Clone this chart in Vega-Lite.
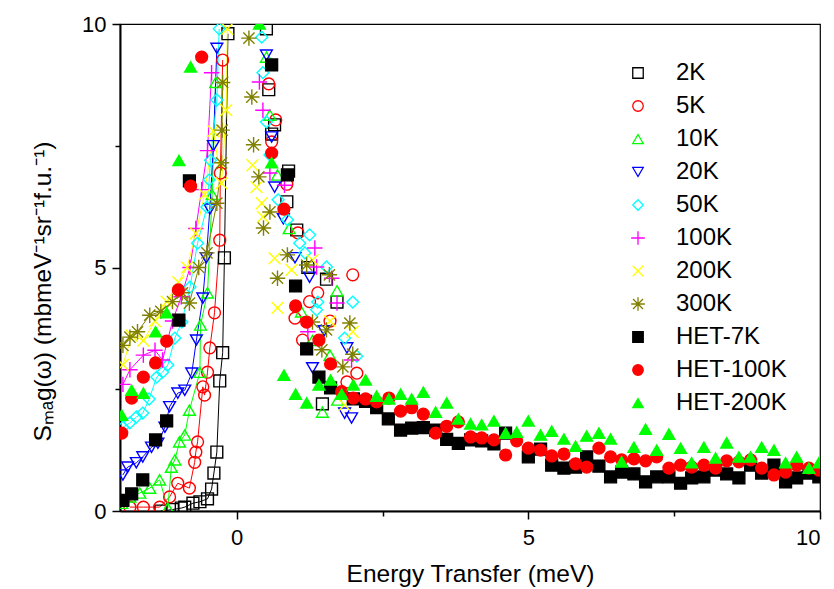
{
"$schema":"https://vega.github.io/schema/vega-lite/v6.json",
"width":700,"height":487,
"autosize":{"type":"none"},
"padding":{"left":120,"top":24,"right":14,"bottom":78},
"background":"white",
"config":{
 "font":"Liberation Sans",
 "view":{"stroke":"#000","strokeWidth":1.2},
 "axis":{"domainColor":"#000","domainWidth":2,"tickColor":"#000","tickWidth":1.5,"grid":false,"labelFont":"Liberation Sans","labelFontSize":22,"labelColor":"#000","titleFont":"Liberation Sans","titleFontSize":24.5,"titleFontWeight":"normal","titleColor":"#000"},
 "legend":{"orient":"none","legendX":506,"legendY":37,"padding":0,"rowPadding":9,"labelOffset":26,"symbolSize":110,"symbolStrokeWidth":1.3,"labelFontSize":24,"labelFont":"Liberation Sans","labelColor":"#000"}
},
"data":{"values":[
{"series":"2K","energy":-1.3,"S":0.0},{"series":"2K","energy":-1.1,"S":0.03},{"series":"2K","energy":-0.95,"S":0.06},{"series":"2K","energy":-0.89,"S":0.08},{"series":"2K","energy":-0.75,"S":0.16},{"series":"2K","energy":-0.63,"S":0.19},{"series":"2K","energy":-0.5,"S":0.25},{"series":"2K","energy":-0.43,"S":0.45},{"series":"2K","energy":-0.39,"S":0.78},{"series":"2K","energy":-0.34,"S":1.21},{"series":"2K","energy":-0.29,"S":2.67},{"series":"2K","energy":-0.24,"S":3.25},{"series":"2K","energy":-0.21,"S":5.2},{"series":"2K","energy":-0.15,"S":9.8},
{"series":"2K","energy":0.51,"S":9.9},{"series":"2K","energy":0.55,"S":8.65},{"series":"2K","energy":0.6,"S":7.74},{"series":"2K","energy":0.65,"S":7.93},{"series":"2K","energy":0.86,"S":6.35},{"series":"2K","energy":0.89,"S":6.98},{"series":"2K","energy":1.03,"S":5.77},{"series":"2K","energy":1.22,"S":5.0},{"series":"2K","energy":1.47,"S":2.2},{"series":"2K","energy":1.54,"S":4.76},{"series":"2K","energy":1.72,"S":4.29},
{"series":"5K","energy":-1.83,"S":0.08},{"series":"5K","energy":-1.6,"S":0.08},{"series":"5K","energy":-1.32,"S":0.08},{"series":"5K","energy":-1.15,"S":0.29},{"series":"5K","energy":-1.01,"S":0.57},{"series":"5K","energy":-0.81,"S":0.47},{"series":"5K","energy":-0.72,"S":1.0},{"series":"5K","energy":-0.7,"S":1.21},{"series":"5K","energy":-0.67,"S":1.42},{"series":"5K","energy":-0.58,"S":2.55},{"series":"5K","energy":-0.55,"S":2.38},{"series":"5K","energy":-0.5,"S":2.85},{"series":"5K","energy":-0.46,"S":3.35},{"series":"5K","energy":-0.38,"S":4.07},{"series":"5K","energy":-0.29,"S":5.56},{"series":"5K","energy":-0.28,"S":6.94},{"series":"5K","energy":-0.24,"S":9.26},
{"series":"5K","energy":0.42,"S":10.3},{"series":"5K","energy":0.55,"S":8.77},{"series":"5K","energy":0.6,"S":7.58},{"series":"5K","energy":0.67,"S":8.03},{"series":"5K","energy":0.86,"S":6.71},{"series":"5K","energy":1.05,"S":5.71},{"series":"5K","energy":1.0,"S":3.96},{"series":"5K","energy":1.13,"S":3.51},{"series":"5K","energy":1.39,"S":4.48},{"series":"5K","energy":1.25,"S":4.3},{"series":"5K","energy":1.6,"S":3.9},{"series":"5K","energy":1.89,"S":2.65},{"series":"5K","energy":2.06,"S":2.83},{"series":"5K","energy":1.99,"S":4.85},
{"series":"10K","energy":-1.97,"S":0.16},{"series":"10K","energy":-1.83,"S":0.29},{"series":"10K","energy":-1.66,"S":0.37},{"series":"10K","energy":-1.49,"S":0.47},{"series":"10K","energy":-1.32,"S":0.64},{"series":"10K","energy":-1.18,"S":0.06},{"series":"10K","energy":-1.12,"S":0.9},{"series":"10K","energy":-1.06,"S":1.05},{"series":"10K","energy":-0.98,"S":1.42},{"series":"10K","energy":-0.89,"S":1.56},{"series":"10K","energy":-0.81,"S":2.07},{"series":"10K","energy":-0.63,"S":2.85},{"series":"10K","energy":-0.62,"S":3.82},{"series":"10K","energy":-0.5,"S":4.48},{"series":"10K","energy":-0.42,"S":6.5},{"series":"10K","energy":-0.36,"S":8.8},
{"series":"10K","energy":0.51,"S":9.32},{"series":"10K","energy":0.57,"S":8.13},{"series":"10K","energy":0.7,"S":6.9},{"series":"10K","energy":0.9,"S":5.8},{"series":"10K","energy":1.11,"S":4.09},{"series":"10K","energy":1.3,"S":3.5},{"series":"10K","energy":1.47,"S":2.03},{"series":"10K","energy":1.72,"S":4.52},{"series":"10K","energy":1.73,"S":2.28},{"series":"10K","energy":1.6,"S":3.2},
{"series":"20K","energy":-1.95,"S":0.74},{"series":"20K","energy":-1.87,"S":0.9},{"series":"20K","energy":-1.72,"S":0.99},{"series":"20K","energy":-1.61,"S":1.11},{"series":"20K","energy":-1.46,"S":1.31},{"series":"20K","energy":-1.35,"S":1.39},{"series":"20K","energy":-1.23,"S":1.72},{"series":"20K","energy":-1.15,"S":2.14},{"series":"20K","energy":-1.01,"S":2.42},{"series":"20K","energy":-0.89,"S":2.48},{"series":"20K","energy":-0.77,"S":2.83},{"series":"20K","energy":-0.69,"S":3.51},{"series":"20K","energy":-0.58,"S":4.37},{"series":"20K","energy":-0.52,"S":5.2},{"series":"20K","energy":-0.46,"S":6.2},{"series":"20K","energy":-0.4,"S":7.5},{"series":"20K","energy":-0.34,"S":9.5},
{"series":"20K","energy":0.51,"S":9.36},{"series":"20K","energy":0.6,"S":7.68},{"series":"20K","energy":0.65,"S":6.65},{"series":"20K","energy":0.8,"S":6.0},{"series":"20K","energy":1.0,"S":5.2},{"series":"20K","energy":1.25,"S":4.8},{"series":"20K","energy":1.3,"S":2.94},{"series":"20K","energy":1.5,"S":3.7},{"series":"20K","energy":1.85,"S":2.01},{"series":"20K","energy":1.89,"S":3.35},{"series":"20K","energy":1.97,"S":1.91},
{"series":"50K","energy":-1.95,"S":1.72},{"series":"50K","energy":-1.83,"S":1.81},{"series":"50K","energy":-1.72,"S":1.93},{"series":"50K","energy":-1.61,"S":2.01},{"series":"50K","energy":-1.5,"S":2.3},{"series":"50K","energy":-1.37,"S":2.75},{"series":"50K","energy":-1.27,"S":2.85},{"series":"50K","energy":-1.18,"S":3.0},{"series":"50K","energy":-1.06,"S":3.55},{"series":"50K","energy":-0.94,"S":3.88},{"series":"50K","energy":-0.8,"S":4.6},{"series":"50K","energy":-0.67,"S":5.5},{"series":"50K","energy":-0.51,"S":6.24},{"series":"50K","energy":-0.47,"S":6.8},{"series":"50K","energy":-0.45,"S":7.2},{"series":"50K","energy":-0.34,"S":8.44},{"series":"50K","energy":-0.3,"S":9.9},
{"series":"50K","energy":0.43,"S":9.73},{"series":"50K","energy":0.45,"S":9.0},{"series":"50K","energy":0.51,"S":7.99},{"series":"50K","energy":0.57,"S":7.31},{"series":"50K","energy":0.71,"S":6.39},{"series":"50K","energy":0.87,"S":5.98},{"series":"50K","energy":1.08,"S":5.5},{"series":"50K","energy":1.17,"S":5.3},{"series":"50K","energy":1.25,"S":5.67},{"series":"50K","energy":1.37,"S":4.13},{"series":"50K","energy":1.39,"S":4.29},{"series":"50K","energy":1.54,"S":5.01},{"series":"50K","energy":1.85,"S":3.55},{"series":"50K","energy":1.99,"S":4.29},{"series":"50K","energy":2.06,"S":3.18},
{"series":"100K","energy":-1.95,"S":2.6},{"series":"100K","energy":-1.83,"S":2.9},{"series":"100K","energy":-1.6,"S":3.2},{"series":"100K","energy":-1.4,"S":3.3},{"series":"100K","energy":-1.27,"S":3.1},{"series":"100K","energy":-1.1,"S":3.9},{"series":"100K","energy":-0.95,"S":4.4},{"series":"100K","energy":-0.8,"S":5.0},{"series":"100K","energy":-0.7,"S":5.8},{"series":"100K","energy":-0.6,"S":6.6},{"series":"100K","energy":-0.5,"S":7.4},{"series":"100K","energy":-0.43,"S":9.0},
{"series":"100K","energy":0.39,"S":8.81},{"series":"100K","energy":0.45,"S":8.23},{"series":"100K","energy":0.57,"S":6.94},{"series":"100K","energy":0.82,"S":6.69},{"series":"100K","energy":1.22,"S":3.68},{"series":"100K","energy":1.34,"S":5.4},{"series":"100K","energy":1.37,"S":5.01},{"series":"100K","energy":1.63,"S":4.78},{"series":"100K","energy":1.72,"S":4.27},{"series":"100K","energy":1.97,"S":3.1},
{"series":"200K","energy":-1.95,"S":3.0},{"series":"200K","energy":-1.8,"S":3.6},{"series":"200K","energy":-1.6,"S":3.5},{"series":"200K","energy":-1.4,"S":3.9},{"series":"200K","energy":-1.2,"S":4.3},{"series":"200K","energy":-1.0,"S":4.7},{"series":"200K","energy":-0.85,"S":5.0},{"series":"200K","energy":-0.7,"S":5.7},{"series":"200K","energy":-0.55,"S":6.5},{"series":"200K","energy":-0.4,"S":7.8},{"series":"200K","energy":-0.26,"S":6.73},{"series":"200K","energy":-0.18,"S":8.23},{"series":"200K","energy":-0.16,"S":9.9},
{"series":"200K","energy":0.27,"S":7.1},{"series":"200K","energy":0.34,"S":6.65},{"series":"200K","energy":0.43,"S":6.32},{"series":"200K","energy":0.45,"S":6.04},{"series":"200K","energy":0.65,"S":5.19},{"series":"200K","energy":0.7,"S":4.17},{"series":"200K","energy":0.94,"S":4.95},{"series":"200K","energy":1.3,"S":5.15},{"series":"200K","energy":1.6,"S":3.9},{"series":"200K","energy":1.85,"S":2.18},{"series":"200K","energy":1.99,"S":3.68},
{"series":"300K","energy":-1.95,"S":3.4},{"series":"300K","energy":-1.83,"S":3.57},{"series":"300K","energy":-1.7,"S":3.68},{"series":"300K","energy":-1.49,"S":4.02},{"series":"300K","energy":-1.3,"S":4.1},{"series":"300K","energy":-1.1,"S":4.3},{"series":"300K","energy":-0.93,"S":4.48},{"series":"300K","energy":-0.81,"S":4.27},{"series":"300K","energy":-0.65,"S":5.0},{"series":"300K","energy":-0.51,"S":5.3},{"series":"300K","energy":-0.34,"S":6.32},{"series":"300K","energy":-0.26,"S":7.15},{"series":"300K","energy":-0.25,"S":7.82},{"series":"300K","energy":-0.24,"S":8.8},
{"series":"300K","energy":0.21,"S":9.71},{"series":"300K","energy":0.26,"S":8.5},{"series":"300K","energy":0.29,"S":7.52},{"series":"300K","energy":0.38,"S":6.86},{"series":"300K","energy":0.46,"S":5.81},{"series":"300K","energy":0.57,"S":6.14},{"series":"300K","energy":0.7,"S":4.78},{"series":"300K","energy":0.87,"S":5.26},{"series":"300K","energy":1.2,"S":5.05},{"series":"300K","energy":1.3,"S":3.88},{"series":"300K","energy":1.46,"S":3.31},{"series":"300K","energy":1.54,"S":3.72},{"series":"300K","energy":1.59,"S":4.85},{"series":"300K","energy":1.82,"S":2.96},{"series":"300K","energy":1.94,"S":3.86},{"series":"300K","energy":1.99,"S":3.22},
{"series":"HET-7K","energy":-1.95,"S":0.22},{"series":"HET-7K","energy":-1.8,"S":0.35},{"series":"HET-7K","energy":-1.61,"S":0.64},{"series":"HET-7K","energy":-1.39,"S":1.46},{"series":"HET-7K","energy":-1.2,"S":1.85},{"series":"HET-7K","energy":-0.99,"S":3.92},{"series":"HET-7K","energy":-0.81,"S":6.78},
{"series":"HET-7K","energy":0.6,"S":9.16},{"series":"HET-7K","energy":0.87,"S":6.9},{"series":"HET-7K","energy":1.01,"S":4.62},{"series":"HET-7K","energy":1.2,"S":3.33},{"series":"HET-7K","energy":1.41,"S":2.75},{"series":"HET-7K","energy":1.61,"S":2.53},{"series":"HET-7K","energy":2.0,"S":2.3},{"series":"HET-7K","energy":2.21,"S":2.25},{"series":"HET-7K","energy":2.4,"S":2.12},{"series":"HET-7K","energy":2.6,"S":1.89},{"series":"HET-7K","energy":2.81,"S":1.66},{"series":"HET-7K","energy":3.0,"S":1.7},{"series":"HET-7K","energy":3.2,"S":1.71},{"series":"HET-7K","energy":3.41,"S":1.66},{"series":"HET-7K","energy":3.6,"S":1.47},{"series":"HET-7K","energy":3.8,"S":1.39},{"series":"HET-7K","energy":4.01,"S":1.46},{"series":"HET-7K","energy":4.2,"S":1.44},{"series":"HET-7K","energy":4.41,"S":1.38},{"series":"HET-7K","energy":4.61,"S":1.6},{"series":"HET-7K","energy":5.0,"S":1.11},{"series":"HET-7K","energy":5.21,"S":1.27},{"series":"HET-7K","energy":5.4,"S":0.94},{"series":"HET-7K","energy":5.61,"S":0.88},{"series":"HET-7K","energy":5.81,"S":0.9},{"series":"HET-7K","energy":6.0,"S":1.11},{"series":"HET-7K","energy":6.21,"S":0.92},{"series":"HET-7K","energy":6.41,"S":0.7},{"series":"HET-7K","energy":6.6,"S":0.8},{"series":"HET-7K","energy":6.81,"S":0.76},{"series":"HET-7K","energy":7.01,"S":0.6},{"series":"HET-7K","energy":7.2,"S":0.7},{"series":"HET-7K","energy":7.41,"S":0.7},{"series":"HET-7K","energy":7.61,"S":0.57},{"series":"HET-7K","energy":7.8,"S":0.68},{"series":"HET-7K","energy":8.01,"S":0.7},{"series":"HET-7K","energy":8.21,"S":0.84},{"series":"HET-7K","energy":8.4,"S":0.76},{"series":"HET-7K","energy":8.61,"S":0.68},{"series":"HET-7K","energy":8.81,"S":0.94},{"series":"HET-7K","energy":9.0,"S":0.78},{"series":"HET-7K","energy":9.21,"S":0.94},{"series":"HET-7K","energy":9.41,"S":0.6},{"series":"HET-7K","energy":9.6,"S":0.68},{"series":"HET-7K","energy":9.81,"S":0.78},{"series":"HET-7K","energy":9.98,"S":0.7},
{"series":"HET-100K","energy":-1.97,"S":1.6},{"series":"HET-100K","energy":-1.8,"S":2.32},{"series":"HET-100K","energy":-1.6,"S":2.75},{"series":"HET-100K","energy":-1.39,"S":3.04},{"series":"HET-100K","energy":-1.2,"S":3.49},{"series":"HET-100K","energy":-1.0,"S":4.54},{"series":"HET-100K","energy":-0.79,"S":6.67},{"series":"HET-100K","energy":-0.6,"S":9.32},
{"series":"HET-100K","energy":0.6,"S":7.35},{"series":"HET-100K","energy":0.81,"S":6.2},{"series":"HET-100K","energy":1.01,"S":4.21},{"series":"HET-100K","energy":1.2,"S":3.88},{"series":"HET-100K","energy":1.41,"S":3.51},{"series":"HET-100K","energy":1.61,"S":3.02},{"series":"HET-100K","energy":1.8,"S":2.45},{"series":"HET-100K","energy":2.0,"S":2.32},{"series":"HET-100K","energy":2.21,"S":2.3},{"series":"HET-100K","energy":2.4,"S":2.24},{"series":"HET-100K","energy":2.61,"S":2.32},{"series":"HET-100K","energy":2.81,"S":2.05},{"series":"HET-100K","energy":3.0,"S":2.12},{"series":"HET-100K","energy":3.2,"S":1.99},{"series":"HET-100K","energy":3.41,"S":1.6},{"series":"HET-100K","energy":3.6,"S":1.74},{"series":"HET-100K","energy":3.8,"S":1.83},{"series":"HET-100K","energy":4.01,"S":1.52},{"series":"HET-100K","energy":4.2,"S":1.5},{"series":"HET-100K","energy":4.41,"S":1.46},{"series":"HET-100K","energy":4.61,"S":1.15},{"series":"HET-100K","energy":4.8,"S":1.44},{"series":"HET-100K","energy":5.0,"S":1.29},{"series":"HET-100K","energy":5.21,"S":1.25},{"series":"HET-100K","energy":5.4,"S":1.13},{"series":"HET-100K","energy":5.61,"S":1.17},{"series":"HET-100K","energy":5.81,"S":0.97},{"series":"HET-100K","energy":6.0,"S":0.9},{"series":"HET-100K","energy":6.21,"S":1.29},{"series":"HET-100K","energy":6.41,"S":1.11},{"series":"HET-100K","energy":6.6,"S":1.05},{"series":"HET-100K","energy":6.81,"S":1.07},{"series":"HET-100K","energy":7.01,"S":1.03},{"series":"HET-100K","energy":7.2,"S":1.11},{"series":"HET-100K","energy":7.41,"S":0.88},{"series":"HET-100K","energy":7.61,"S":0.94},{"series":"HET-100K","energy":7.8,"S":0.9},{"series":"HET-100K","energy":8.01,"S":0.94},{"series":"HET-100K","energy":8.21,"S":0.88},{"series":"HET-100K","energy":8.4,"S":1.03},{"series":"HET-100K","energy":8.61,"S":1.01},{"series":"HET-100K","energy":8.81,"S":1.05},{"series":"HET-100K","energy":9.0,"S":0.88},{"series":"HET-100K","energy":9.21,"S":0.74},{"series":"HET-100K","energy":9.41,"S":0.8},{"series":"HET-100K","energy":9.6,"S":0.94},{"series":"HET-100K","energy":9.81,"S":0.88},{"series":"HET-100K","energy":9.98,"S":0.84},
{"series":"HET-200K","energy":-1.97,"S":1.97},{"series":"HET-200K","energy":-1.8,"S":2.48},{"series":"HET-200K","energy":-1.6,"S":2.42},{"series":"HET-200K","energy":-1.39,"S":3.68},{"series":"HET-200K","energy":-1.2,"S":4.07},{"series":"HET-200K","energy":-0.99,"S":7.2},{"series":"HET-200K","energy":-0.79,"S":9.12},
{"series":"HET-200K","energy":0.39,"S":10.0},{"series":"HET-200K","energy":0.6,"S":7.15},{"series":"HET-200K","energy":0.81,"S":2.79},{"series":"HET-200K","energy":1.01,"S":2.4},{"series":"HET-200K","energy":1.2,"S":2.22},{"series":"HET-200K","energy":1.41,"S":2.59},{"series":"HET-200K","energy":1.61,"S":2.69},{"series":"HET-200K","energy":1.8,"S":2.4},{"series":"HET-200K","energy":2.0,"S":2.59},{"series":"HET-200K","energy":2.21,"S":2.69},{"series":"HET-200K","energy":2.4,"S":2.36},{"series":"HET-200K","energy":2.61,"S":2.3},{"series":"HET-200K","energy":2.81,"S":2.4},{"series":"HET-200K","energy":3.0,"S":2.3},{"series":"HET-200K","energy":3.2,"S":2.44},{"series":"HET-200K","energy":3.41,"S":2.03},{"series":"HET-200K","energy":3.6,"S":2.22},{"series":"HET-200K","energy":3.8,"S":1.89},{"series":"HET-200K","energy":4.01,"S":1.79},{"series":"HET-200K","energy":4.2,"S":1.77},{"series":"HET-200K","energy":4.41,"S":1.85},{"series":"HET-200K","energy":4.61,"S":1.6},{"series":"HET-200K","energy":4.8,"S":1.62},{"series":"HET-200K","energy":5.0,"S":1.85},{"series":"HET-200K","energy":5.21,"S":1.56},{"series":"HET-200K","energy":5.4,"S":1.64},{"series":"HET-200K","energy":5.61,"S":1.48},{"series":"HET-200K","energy":5.81,"S":1.33},{"series":"HET-200K","energy":6.0,"S":1.54},{"series":"HET-200K","energy":6.21,"S":1.6},{"series":"HET-200K","energy":6.41,"S":1.48},{"series":"HET-200K","energy":6.6,"S":1.01},{"series":"HET-200K","energy":6.81,"S":1.31},{"series":"HET-200K","energy":7.01,"S":1.68},{"series":"HET-200K","energy":7.2,"S":1.25},{"series":"HET-200K","energy":7.41,"S":1.58},{"series":"HET-200K","energy":7.61,"S":1.29},{"series":"HET-200K","energy":7.8,"S":0.99},{"series":"HET-200K","energy":8.01,"S":1.31},{"series":"HET-200K","energy":8.21,"S":1.09},{"series":"HET-200K","energy":8.4,"S":1.4},{"series":"HET-200K","energy":8.61,"S":1.11},{"series":"HET-200K","energy":8.81,"S":1.11},{"series":"HET-200K","energy":9.0,"S":1.31},{"series":"HET-200K","energy":9.21,"S":1.25},{"series":"HET-200K","energy":9.41,"S":0.99},{"series":"HET-200K","energy":9.6,"S":1.11},{"series":"HET-200K","energy":9.81,"S":0.88},{"series":"HET-200K","energy":9.98,"S":0.99}
]},
"encoding":{
 "x":{"field":"energy","type":"quantitative","scale":{"domain":[-2,10],"nice":false,"zero":false},
  "axis":{"title":"Energy Transfer (meV)","values":[0,2.5,5,7.5,10],"labelExpr":"datum.value % 5 === 0 ? datum.label : ''","tickSize":{"condition":{"test":"datum.value % 5 === 0","value":8},"value":5},"labelPadding":8,"titlePadding":14}},
 "y":{"field":"S","type":"quantitative","scale":{"domain":[0,10],"nice":false},
  "axis":{"title":"Sₘₐg(ω) (mbmeV⁻¹sr⁻¹f.u.⁻¹)","titleY":267,"values":[0,2.5,5,7.5,10],"labelExpr":"datum.value % 5 === 0 ? datum.label : ''","tickSize":{"condition":{"test":"datum.value % 5 === 0","value":8},"value":5},"labelPadding":6,"titlePadding":26}}
},
"layer":[
 {"transform":[{"filter":"datum.energy < 0 && indexof(['HET-7K','HET-100K','HET-200K'], datum.series) < 0"}],
  "mark":{"type":"line","strokeWidth":1,"clip":true},
  "encoding":{"color":{"field":"series","type":"nominal","legend":null,
   "scale":{"domain":["2K","5K","10K","20K","50K","100K","200K","300K"],"range":["#000000","#ff0000","#00ff00","#0000ff","#00ffff","#ff00ff","#ffff00","#808000"]}}}},
 {"mark":{"type":"point","clip":true,"size":140,"strokeWidth":1.4,"opacity":1},
  "encoding":{
   "shape":{"field":"series","type":"nominal","legend":{"title":null},"scale":{"domain":["2K","5K","10K","20K","50K","100K","200K","300K","HET-7K","HET-100K","HET-200K"],"range":["square","circle","triangle-up","triangle-down","diamond","M-1.3,0L1.3,0M0,-1.3L0,1.3","M-1,-1L1,1M-1,1L1,-1","M-1.3,0L1.3,0M0,-1.3L0,1.3M-0.95,-0.95L0.95,0.95M-0.95,0.95L0.95,-0.95","square","circle","triangle-up"]}},
   "stroke":{"field":"series","type":"nominal","legend":{"title":null},"scale":{"domain":["2K","5K","10K","20K","50K","100K","200K","300K","HET-7K","HET-100K","HET-200K"],"range":["#000000","#ff0000","#00ff00","#0000ff","#00ffff","#ff00ff","#ffff00","#808000","#000000","#ff0000","#00ff00"]}},
   "fill":{"field":"series","type":"nominal","legend":{"title":null},"scale":{"domain":["2K","5K","10K","20K","50K","100K","200K","300K","HET-7K","HET-100K","HET-200K"],"range":["transparent","transparent","transparent","transparent","transparent","transparent","transparent","transparent","#000000","#ff0000","#00ff00"]}}
  }}
]
}
